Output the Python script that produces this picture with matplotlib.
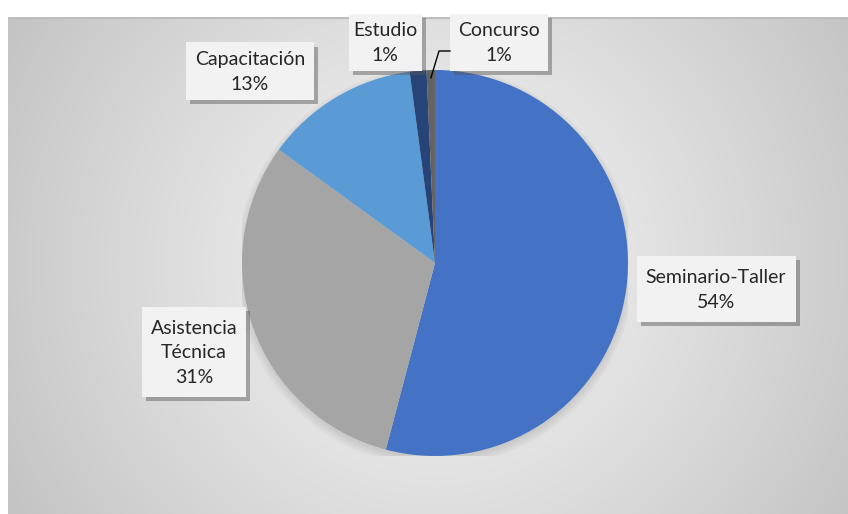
import numpy as np
import matplotlib
matplotlib.use("Agg")
import matplotlib.pyplot as plt
import matplotlib.patheffects as pe

# ---- data ----
categories = ["Seminario-Taller", "Asistencia\nTécnica", "Capacitación", "Estudio", "Concurso"]
values = [54.1, 30.9, 12.9, 1.4, 0.7]
colors = ["#4472C4", "#A5A5A5", "#5B9BD5", "#264478", "#636363"]

W, H = 848, 514
fig = plt.figure(figsize=(W / 100, H / 100), dpi=100)
fig.patch.set_facecolor("white")

# background chart area with radial gradient
bx0, by_top = 8, 17
bg = fig.add_axes([bx0 / W, 0, 1 - bx0 / W, (H - by_top) / H])
bg.set_axis_off()
gw, gh = W - bx0, H - by_top
yy, xx = np.mgrid[0:gh, 0:gw]
cx, cy = 435 - bx0, 263 - by_top
d = np.sqrt((xx - cx) ** 2 + (yy - cy) ** 2)
d = d / d.max()
val = 0.955 - 0.19 * np.clip(d, 0, 1) ** 1.2
img = np.dstack([val, val, val])
bg.imshow(img, aspect="auto", extent=[0, gw, gh, 0], interpolation="bilinear")
bg.set_xlim(0, gw)
bg.set_ylim(gh, 0)
bg.axhline(0.5, color="#bdbdbd", lw=1.5)

# pie axes
cxp, cyp, R = 435, 263, 193
ax = fig.add_axes([(cxp - R) / W, (H - cyp - R) / H, 2 * R / W, 2 * R / H])
ax.set_axis_off()

# soft shadow under pie
for k in range(8):
    sh = plt.Circle((0.0, -0.02), 0.99 + 0.006 * k, color="black", alpha=0.012, zorder=0)
    ax.add_patch(sh)

wedges, _ = ax.pie(values, colors=colors, startangle=90, counterclock=False,
                   radius=1.0, wedgeprops=dict(linewidth=0))
ax.set_xlim(-1, 1)
ax.set_ylim(-1, 1)

total = sum(values)
pcts = [f"{round(v / total * 100):d}%" for v in values]

# label positions in pixel coords (centre of box) and box sizes
label_pos = [(716, 289), (194, 352), (250, 71), (385, 42), (499, 42)]
box_size = [(159, 66), (104, 90), (128, 57), (73, 57), (98, 57)]

def px2data(x, y):
    return ((x - cxp) / R, (cyp - y) / R)

for cat, pct, (lx, ly), (bw, bh) in zip(categories, pcts, label_pos, box_size):
    x0, y0 = px2data(lx - bw / 2, ly + bh / 2)
    rect = plt.Rectangle((x0, y0), bw / R, bh / R, facecolor="#F2F2F2",
                         edgecolor="none", zorder=5, clip_on=False,
                         transform=ax.transData)
    rect.set_path_effects([pe.SimplePatchShadow(offset=(3, -3), shadow_rgbFace="#555555", alpha=0.45),
                           pe.Normal()])
    ax.add_patch(rect)
    tx, ty = px2data(lx, ly + 1)
    ax.text(tx, ty, f"{cat}\n{pct}", ha="center", va="center", fontsize=14,
            family=["Lato", "DejaVu Sans"], color="#262626", linespacing=1.55,
            zorder=6, clip_on=False)

# leader line for Concurso
w = wedges[4]
ang = np.deg2rad((w.theta1 + w.theta2) / 2)
sx, sy = 0.96 * np.cos(ang), 0.96 * np.sin(ang)
ex, ey = px2data(439, 51)
fx, fy = px2data(450, 51)
ax.plot([sx, ex, fx], [sy, ey, fy], color="black", lw=1, zorder=7, clip_on=False)

fig.savefig("out.png", dpi=100, facecolor="white")
